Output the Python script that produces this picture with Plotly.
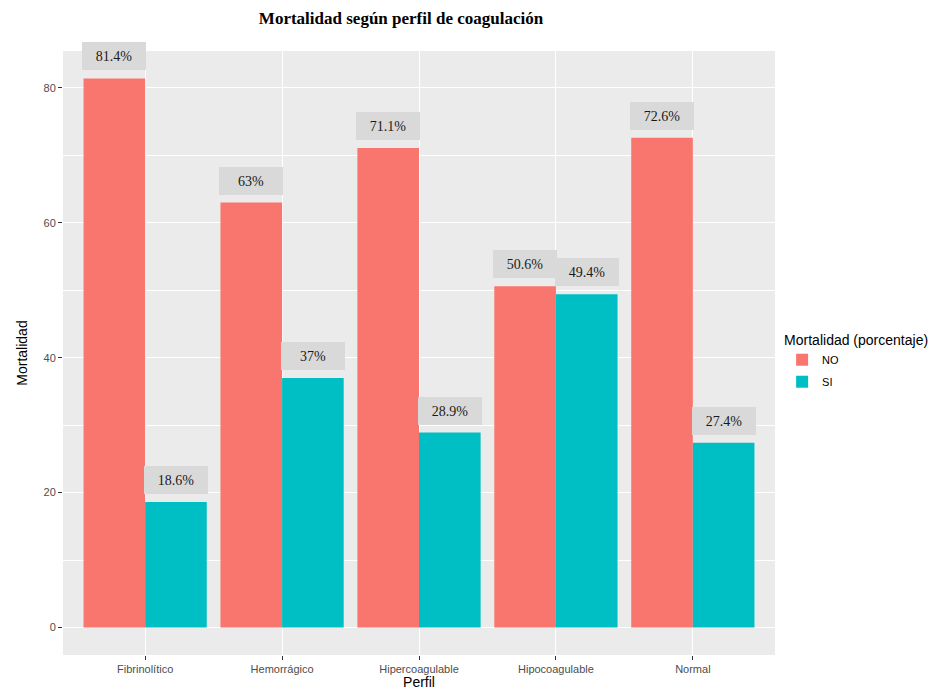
import plotly.graph_objects as go

categories = ["Fibrinolítico", "Hemorrágico", "Hipercoagulable", "Hipocoagulable", "Normal"]
no_values = [81.4, 63.0, 71.1, 50.6, 72.6]
si_values = [18.6, 37.0, 28.9, 49.4, 27.4]
no_labels = ["81.4%", "63%", "71.1%", "50.6%", "72.6%"]
si_labels = ["18.6%", "37%", "28.9%", "49.4%", "27.4%"]
y_ticks = [0, 20, 40, 60, 80]

col_no = "#F8766D"
col_si = "#00BFC4"

xs = list(range(len(categories)))
fig = go.Figure()
fig.add_trace(go.Bar(x=xs, y=no_values, name="NO", legendgroup="no",
                     marker=dict(color=col_no, line=dict(width=0))))
fig.add_trace(go.Bar(x=xs, y=si_values, name="SI", legendgroup="si",
                     marker=dict(color=col_si, line=dict(width=0))))

half = 0.225
for i in xs:
    for val, lab, off in ((no_values[i], no_labels[i], -half), (si_values[i], si_labels[i], half)):
        fig.add_annotation(
            x=i + off, y=val, xref="x", yref="y", text=lab, showarrow=False,
            yanchor="bottom", yshift=8, bgcolor="#D9D9D9", borderpad=3, borderwidth=0,
            width=58, height=22,
            font=dict(family="Liberation Serif", size=14, color="#1a1a1a"),
        )

ymax = max(no_values + si_values)
fig.update_layout(
    width=942, height=690,
    margin=dict(l=63, r=167, t=51, b=35),
    paper_bgcolor="white", plot_bgcolor="#EBEBEB",
    barmode="group", bargap=0.1, bargroupgap=0,
    title=dict(text="<b>Mortalidad según perfil de coagulación</b>", x=401/942, xanchor="center",
               y=1 - 18/690, yanchor="middle",
               font=dict(family="Liberation Serif", size=17, color="black")),
    legend=dict(x=1.01, y=0.543, xanchor="left", yanchor="top",
                title=dict(text="Mortalidad (porcentaje)", font=dict(family="Liberation Sans", size=14, color="black")),
                font=dict(family="Liberation Sans", size=11, color="black"),
                traceorder="grouped", tracegroupgap=3),
    xaxis=dict(range=[-0.6, len(categories) - 0.4], tickvals=xs, ticktext=categories,
               automargin=False,
               showgrid=True, gridcolor="white", gridwidth=1.2, zeroline=False,
               ticks="outside", ticklen=4, tickcolor="#333333",
               tickfont=dict(family="Liberation Sans", size=11, color="#4D4D4D"),
               title=dict(text="Perfil", standoff=2, font=dict(family="Liberation Sans", size=14, color="black"))),
    yaxis=dict(range=[-0.05 * ymax, 1.05 * ymax], tickvals=y_ticks,
               automargin=False,
               showgrid=True, gridcolor="white", gridwidth=1.2, zeroline=False,
               minor=dict(tickvals=[10, 30, 50, 70], showgrid=True, gridcolor="white", gridwidth=0.6),
               ticks="outside", ticklen=4, tickcolor="#333333",
               tickfont=dict(family="Liberation Sans", size=11, color="#4D4D4D"),
               title=dict(text="Mortalidad", standoff=12, font=dict(family="Liberation Sans", size=14, color="black"))),
)
fig.write_html("out.html")
